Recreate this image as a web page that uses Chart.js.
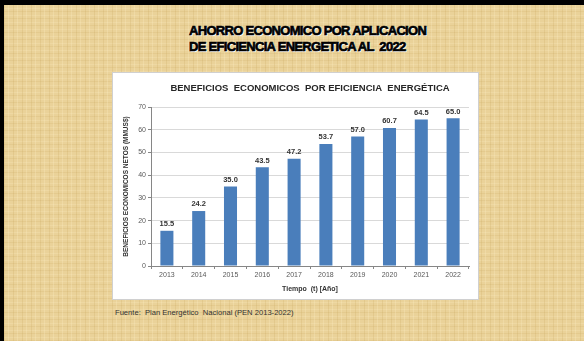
<!DOCTYPE html>
<html>
<head>
<meta charset="utf-8">
<script src="https://cdn.jsdelivr.net/npm/chart.js@4.4.1/dist/chart.umd.min.js"></script>
<style>
  html, body { margin: 0; padding: 0; }
  #slide {
    position: relative;
    width: 584px;
    height: 341px;
    box-sizing: border-box;
    border-top: 5px solid #000;
    border-left: 4px solid #000;
    background-color: #ead299;
    background-image:
      repeating-linear-gradient(90deg, rgba(195,160,85,0.2) 0px, rgba(195,160,85,0.2) 1px, transparent 1px, transparent 4px, rgba(255,240,200,0.25) 4px, rgba(255,240,200,0.25) 5px, transparent 5px, transparent 9px),
      repeating-linear-gradient(0deg, rgba(195,160,85,0.16) 0px, rgba(195,160,85,0.16) 1px, transparent 1px, transparent 3px, rgba(255,240,200,0.2) 3px, rgba(255,240,200,0.2) 4px, transparent 4px, transparent 7px);
    overflow: hidden;
  }
  #title {
    position: absolute;
    left: 185px;
    top: 18px;
    font-family: "Liberation Sans", Arial, sans-serif;
    font-weight: bold;
    font-size: 13px;
    line-height: 16px;
    letter-spacing: -0.7px;
    color: #000;
    -webkit-text-stroke: 0.7px #000;
    text-shadow: 1px 1px 0 #fff, -0.5px -0.5px 0 #fff;
    white-space: pre;
  }
  #panel {
    position: absolute;
    left: 108px;
    top: 67px;
    width: 365px;
    height: 226px;
    background: #fff;
    border: 1px solid #d0d0d0;
  }
  #source {
    position: absolute;
    left: 111px;
    top: 303px;
    font-family: "Liberation Sans", Arial, sans-serif;
    font-size: 7.6px;
    color: #333;
    white-space: pre;
  }
</style>
</head>
<body>
<div id="slide">
  <div id="title">AHORRO ECONOMICO POR APLICACION
DE EFICIENCIA ENERGETICA AL  2022</div>
  <div id="panel"><canvas id="chart" width="365" height="226"></canvas></div>
  <div id="source">Fuente:  Plan Energético  Nacional (PEN 2013-2022)</div>
</div>
<script>
const years = ['2013', '2014', '2015', '2016', '2017', '2018', '2019', '2020', '2021', '2022'];
const benefits = [15.5, 24.2, 35.0, 43.5, 47.2, 53.7, 57.0, 60.7, 64.5, 65.0];
const yMin = 0;
const yMax = 70;
const yStep = 10;

// etiquetas de valor encima de cada barra
const valueLabels = {
    id: 'valueLabels',
    afterDatasetsDraw(chart) {
        const ctx = chart.ctx;
        const meta = chart.getDatasetMeta(0);
        ctx.save();
        ctx.font = 'bold 7.5px "Liberation Sans", Arial, sans-serif';
        ctx.fillStyle = '#333333';
        ctx.textAlign = 'center';
        ctx.textBaseline = 'bottom';
        meta.data.forEach(function(bar, i) {
            ctx.fillText(benefits[i].toFixed(1), bar.x, bar.y - 3);
        });
        ctx.restore();
    }
};

new Chart(document.getElementById('chart').getContext('2d'), {
    type: 'bar',
    data: {
        labels: years,
        datasets: [{
            data: benefits,
            backgroundColor: '#4a7ebb',
            borderWidth: 0,
            barPercentage: 0.41,
            categoryPercentage: 1
        }]
    },
    options: {
        responsive: false,
        animation: false,
        devicePixelRatio: 1,
        layout: {
            padding: { top: 0, left: 4, right: 9, bottom: 4 }
        },
        plugins: {
            legend: { display: false },
            tooltip: { enabled: false },
            title: {
                display: true,
                fullSize: false,
                text: 'BENEFICIOS  ECONOMICOS  POR EFICIENCIA  ENERGÉTICA',
                color: '#262626',
                font: { family: '"Liberation Sans", Arial, sans-serif', size: 9.5, weight: 'bold' },
                padding: { top: 9.3, bottom: 13.3 }
            }
        },
        scales: {
            x: {
                grid: {
                    offset: true,
                    drawOnChartArea: false,
                    tickLength: 3,
                    color: '#868686'
                },
                border: { color: '#868686' },
                ticks: {
                    color: '#595959',
                    padding: 2,
                    font: { family: '"Liberation Sans", Arial, sans-serif', size: 7 }
                },
                title: {
                    display: true,
                    text: 'Tiempo  (t) [Año]',
                    color: '#333333',
                    font: { family: '"Liberation Sans", Arial, sans-serif', size: 7, weight: 'bold' },
                    padding: { top: 0, bottom: 1.8 }
                },
                afterFit: function(scale) {
                    scale.height = 29;
                }
            },
            y: {
                min: yMin,
                max: yMax,
                grid: {
                    color: '#d9d9d9',
                    tickLength: 3,
                    tickColor: '#868686'
                },
                border: { color: '#868686' },
                ticks: {
                    stepSize: yStep,
                    color: '#595959',
                    padding: 2,
                    font: { family: '"Liberation Sans", Arial, sans-serif', size: 7 }
                },
                title: {
                    display: true,
                    text: 'BENEFICIOS ECONOMICOS NETOS (MMUS$)',
                    color: '#333333',
                    font: { family: '"Liberation Sans", Arial, sans-serif', size: 6.5, weight: 'bold' },
                    padding: { top: 5.1, bottom: 0 }
                },
                afterFit: function(scale) {
                    scale.width = 34;
                }
            }
        }
    },
    plugins: [valueLabels]
});
</script>
</body>
</html>
